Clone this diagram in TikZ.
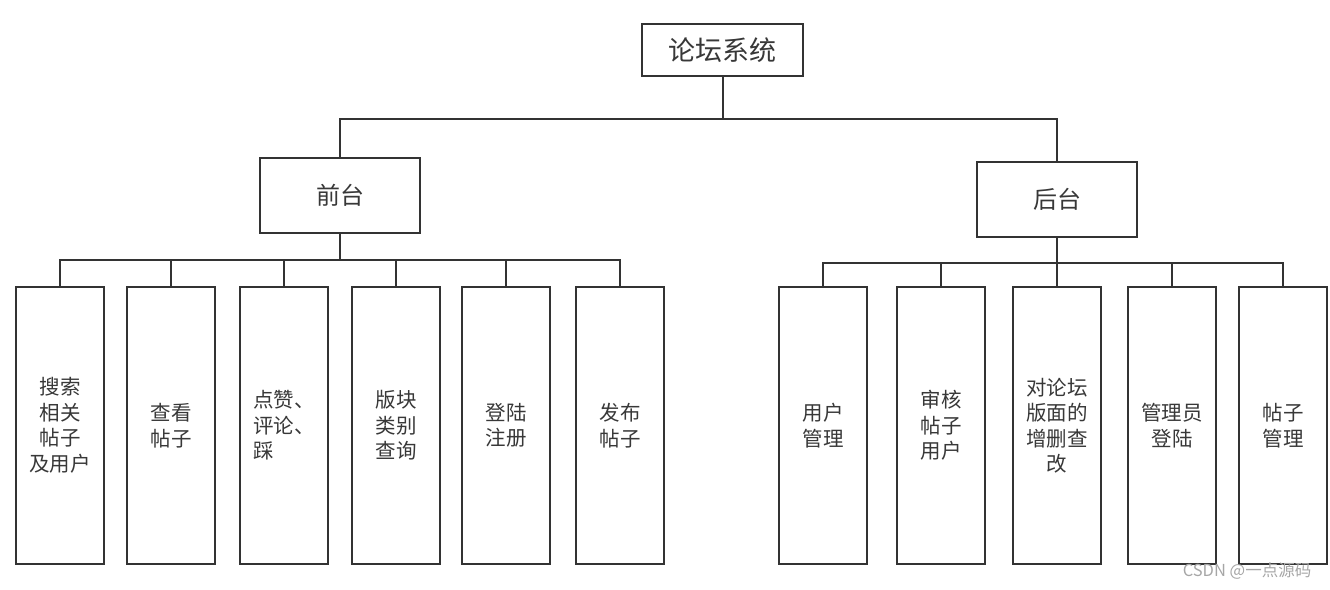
\documentclass[tikz,border=0pt]{standalone}
\usepackage{fontspec}
\newfontfamily\cjk{Noto Sans CJK SC}
\usetikzlibrary{positioning, calc}

\begin{document}
\begin{tikzpicture}[
  x=1pt, y=-1pt,
  font=\cjk,
  box/.style={draw=black!80, line width=2pt, fill=white, text=black!78, align=center, inner sep=0pt},
  topbox/.style={box, minimum width=161pt, minimum height=52pt, font=\cjk\fontsize{27}{32}\selectfont},
  midbox/.style={box, minimum width=160pt, minimum height=75pt, font=\cjk\fontsize{24}{28}\selectfont},
  leafbox/.style={box, minimum width=88pt, minimum height=277pt, font=\cjk\fontsize{20.5}{25.5}\selectfont},
  link/.style={draw=black!80, line width=2pt}
]
\useasboundingbox (0,0) rectangle (1330,589);

% root and the two halves
\node[topbox] (sys)   at (722.5,50)  {论坛系统};
\node[midbox] (front) at (340,195.5) {前台};
\node[midbox] (back)  at (1057,199.5) {后台};

% bus lines
\coordinate (busA) at (0,119);
\coordinate (busB) at (0,260);
\coordinate (busC) at (0,263);

% front-end modules
\node[leafbox] (f1) at (60,425.5)  {搜索\\相关\\帖子\\及用户};
\node[leafbox] (f2) at (171,425.5) {查看\\帖子};
\node[leafbox, align=left] (f3) at (284,425.5) {点赞、\\评论、\\踩};
\node[leafbox] (f4) at (396,425.5) {版块\\类别\\查询};
\node[leafbox] (f5) at (506,425.5) {登陆\\注册};
\node[leafbox] (f6) at (620,425.5) {发布\\帖子};

% back-end modules
\node[leafbox] (b1) at (823,425.5)  {用户\\管理};
\node[leafbox] (b2) at (941,425.5)  {审核\\帖子\\用户};
\node[leafbox] (b3) at (1057,425.5) {对论坛\\版面的\\增删查\\改};
\node[leafbox] (b4) at (1172,425.5) {管理员\\登陆};
\node[leafbox] (b5) at (1283,425.5) {帖子\\管理};

\draw[link] (sys.south) -- (sys.south |- busA) -| (front.north);
\draw[link] (sys.south |- busA) -| (back.north);

\foreach \n in {f1,f2,f3,f4,f5,f6}
  \draw[link] (front.south) -- (front.south |- busB) -| (\n.north);
\foreach \n in {b1,b2,b3,b4,b5}
  \draw[link] (back.south) -- (back.south |- busC) -| (\n.north);

% watermark
\node[text=black!35, font=\cjk\fontsize{16.5}{19}\selectfont] (mark) at (1247,571) {CSDN @一点源码};

\end{tikzpicture}
\end{document}
